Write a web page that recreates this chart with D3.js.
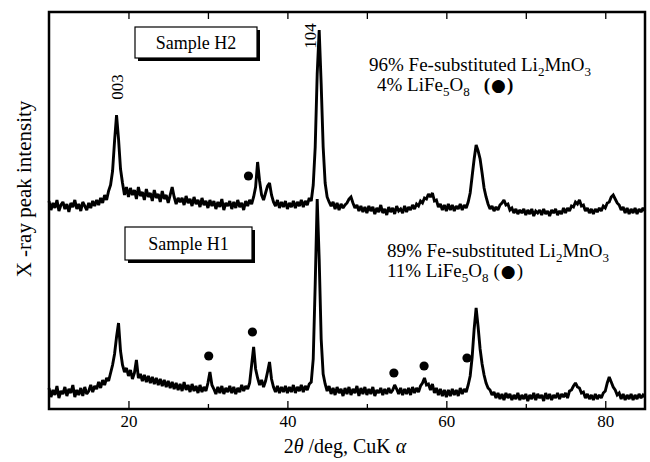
<!DOCTYPE html>
<html><head><meta charset="utf-8">
<script src="https://cdn.jsdelivr.net/npm/d3@7"></script>
<style>body{margin:0;background:#fff}svg{display:block}text{font-family:"Liberation Serif","Times New Roman",serif;fill:#000}</style>
</head><body>
<svg id="c" width="650" height="462"></svg>
<script>
// 2θ grid (deg): start, step
const angleStart = 10, angleStep = 0.25;
// Sample H2 intensity (arb. units, stacked above H1)
const sampleH2 = [
208,199,206,201,209,198,204,207,200,205,197,206,202,209,200,205,198,207,203,199,
206,201,208,203,209,204,211,206,214,209,218,224,238,268,294,270,240,226,214,222,
212,221,214,219,210,222,213,217,209,220,212,216,208,219,211,215,207,218,210,214,
206,214,222,212,205,211,207,211,204,213,206,210,203,212,205,209,202,211,204,208,
201,209,203,208,200,207,202,210,199,206,203,208,200,207,201,209,202,206,199,208,
203,209,205,212,222,247,228,214,209,216,223,226,214,207,203,209,201,207,202,208,
200,206,202,208,201,207,203,209,202,208,204,211,208,224,262,335,379,325,262,226,
212,207,203,207,200,206,199,205,201,204,206,210,212,206,201,204,198,203,197,202,
196,203,198,202,195,201,197,204,196,200,194,202,197,201,195,203,198,200,196,203,
197,202,199,204,200,205,203,208,206,211,210,215,212,216,208,209,202,205,199,204,
198,205,199,204,198,203,200,205,199,204,201,207,216,233,250,264,258,250,236,221,
212,205,200,203,198,202,199,204,206,209,204,205,199,201,196,200,195,199,196,200,
194,199,195,200,193,198,196,199,194,200,195,198,193,199,196,200,194,198,195,201,
196,201,198,203,202,207,205,209,203,204,198,201,196,200,195,200,197,201,198,203,
201,206,207,212,214,210,206,204,199,202,196,201,195,200,196,201,195,200,197,201,
198];
// Sample H1 intensity (arb. units)
const sampleH1 = [
21,12,19,14,23,11,18,15,22,13,20,16,24,12,19,14,21,13,22,15,
18,24,17,23,20,27,21,29,24,31,28,36,44,55,72,86,58,44,37,41,
33,39,30,36,49,31,35,28,34,27,33,26,32,25,31,24,30,23,29,22,
28,21,27,20,26,19,25,18,27,19,24,17,25,18,23,16,24,17,22,18,
26,37,24,20,15,22,16,23,15,21,17,23,16,22,15,21,17,24,18,23,
20,26,44,62,40,31,24,29,22,28,37,47,30,22,17,23,16,22,17,23,
16,22,17,24,16,22,18,24,17,23,19,25,27,50,125,210,150,70,35,25,
18,23,15,21,14,22,16,20,13,21,15,22,14,20,16,23,13,21,15,22,
14,20,15,22,13,19,16,21,14,20,15,21,16,19,24,20,15,21,14,20,
15,21,14,22,16,21,17,23,26,31,24,25,19,25,16,21,14,20,13,19,
12,19,13,20,14,19,13,21,15,20,17,24,33,52,80,101,82,60,45,34,
26,21,19,14,17,11,16,10,15,9,16,11,15,9,14,10,16,9,14,10,
15,8,14,10,16,9,15,11,14,8,16,10,15,9,14,11,16,10,15,12,
16,11,18,19,23,26,22,21,16,17,11,15,10,14,9,15,10,14,11,16,
18,26,32,27,22,19,14,16,10,15,9,14,10,15,9,14,10,15,11,14,
12];
// LiFe5O8 marker positions (2θ) and heights
const h2MarkerAngles = [35.1];
const h2MarkerHeights = [233];
const h1MarkerAngles = [30.1, 35.6, 53.4, 57.2, 62.6];
const h1MarkerHeights = [53, 77, 36, 43, 51];
// Axis
const xDomain = [10, 85];
const yDomain = [0, 398];
const majorTicks = [20, 40, 60, 80];
const minorTicks = [30, 50, 70];
const xTitle = ["2", "θ", " /deg, CuK ", "α"];
const yTitle = "X -ray peak intensity";

const svg = d3.select("#c");
const L = 49, R = 645, T = 12, B = 409;
const x = d3.scaleLinear().domain(xDomain).range([L, R]);
const y = d3.scaleLinear().domain(yDomain).range([B, B - (yDomain[1] - yDomain[0])]);

const toPts = arr => arr.map((v, i) => [angleStart + i * angleStep, v]);
const line = d3.line().x(d => x(d[0])).y(d => y(d[1]));

const g = svg.append("g");
[sampleH2, sampleH1].forEach(s => {
  g.append("path").attr("d", line(toPts(s))).attr("fill", "none")
    .attr("stroke", "#000").attr("stroke-width", 2.9).attr("stroke-linejoin", "miter")
    .attr("stroke-miterlimit", 2);
});

// markers
const mk = (angles, heights) => angles.forEach((a, i) =>
  g.append("circle").attr("cx", x(a)).attr("cy", y(heights[i])).attr("r", 4.6).attr("fill", "#000"));
mk(h2MarkerAngles, h2MarkerHeights);
mk(h1MarkerAngles, h1MarkerHeights);

// frame
svg.append("rect").attr("x", L).attr("y", T).attr("width", R - L).attr("height", B - T)
  .attr("fill", "none").attr("stroke", "#000").attr("stroke-width", 2.5);

// ticks (inward, top and bottom)
const bottomAxis = d3.axisBottom(x).tickValues(majorTicks).tickSize(-8).tickFormat(d3.format("d")).tickPadding(6);
const ga = svg.append("g").attr("transform", `translate(0,${B})`).call(bottomAxis);
ga.select(".domain").remove();
ga.selectAll("line").attr("stroke-width", 1.3);
ga.selectAll("text").attr("font-size", 17).attr("font-family", "Liberation Serif");
const gm = svg.append("g").attr("transform", `translate(0,${B})`)
  .call(d3.axisBottom(x).tickValues(minorTicks).tickSize(-5).tickFormat(""));
gm.select(".domain").remove();
gm.selectAll("line").attr("stroke-width", 1.3);
const gt = svg.append("g").attr("transform", `translate(0,${T})`)
  .call(d3.axisTop(x).tickValues(majorTicks.concat(minorTicks)).tickSize(-7).tickFormat(""));
gt.select(".domain").remove();
gt.selectAll("line").attr("stroke-width", 1.3);

// axis titles
const xt = svg.append("text").attr("x", 345).attr("y", 453).attr("text-anchor", "middle").attr("font-size", 20);
xTitle.forEach((s, i) => xt.append("tspan").text(s).attr("font-style", (i % 2) ? "italic" : "normal"));
svg.append("text").attr("transform", "translate(31,189) rotate(-90)").attr("text-anchor", "middle")
  .attr("font-size", 21).text(yTitle);

// peak labels
svg.append("text").attr("transform", "translate(123,87) rotate(-90)").attr("text-anchor", "middle")
  .attr("font-size", 17).text("003");
svg.append("text").attr("transform", "translate(316,36) rotate(-90)").attr("text-anchor", "middle")
  .attr("font-size", 17).text("104");

// sample boxes with shadow
function box(x0, y0, w, h, label) {
  svg.append("rect").attr("x", x0 + 3).attr("y", y0 + 3).attr("width", w).attr("height", h).attr("fill", "#000");
  svg.append("rect").attr("x", x0).attr("y", y0).attr("width", w).attr("height", h)
    .attr("fill", "#fff").attr("stroke", "#000").attr("stroke-width", 1.2);
  svg.append("text").attr("x", x0 + w / 2).attr("y", y0 + h / 2 + 6).attr("text-anchor", "middle")
    .attr("font-size", 18).text(label);
}
box(135, 27, 122, 31, "Sample H2");
box(125, 227, 127, 33, "Sample H1");

// composition annotations
function formula(t, parts) {
  parts.forEach(p => {
    const ts = t.append("tspan").text(p[0]);
    if (p[1]) ts.attr("font-size", 13).attr("dy", 5);
    else if (p[2]) ts.attr("dy", -5);
  });
}
function note(x0, y0, pct, pct2, dx, bold) {
  const t1 = svg.append("text").attr("x", x0).attr("y", y0).attr("font-size", 19);
  formula(t1, [[pct + " Fe-substituted Li"], ["2", 1], ["MnO", 0, 1], ["3", 1]]);
  const t2 = svg.append("text").attr("x", x0 + dx).attr("y", y0 + 20).attr("font-size", 19);
  formula(t2, [[pct2 + " LiFe"], ["5", 1], ["O", 0, 1], ["8", 1]]);
  const bb = t2.node().getBBox();
  const px = bb.x + bb.width + (bold ? 14 : 5);
  const tp = svg.append("text").attr("x", px).attr("y", y0 + 20).attr("font-size", 19)
    .attr("font-weight", bold ? "bold" : "normal");
  tp.append("tspan").text("(");
  tp.append("tspan").text("\u25CF").attr("font-family", "DejaVu Sans").attr("font-size", 17).attr("dx", 1);
  tp.append("tspan").text(")").attr("dx", 1);
}
note(369, 71, "96%", "4%", 8, true);
note(387, 257, "89%", "11%", 0, false);
</script>
</body></html>
